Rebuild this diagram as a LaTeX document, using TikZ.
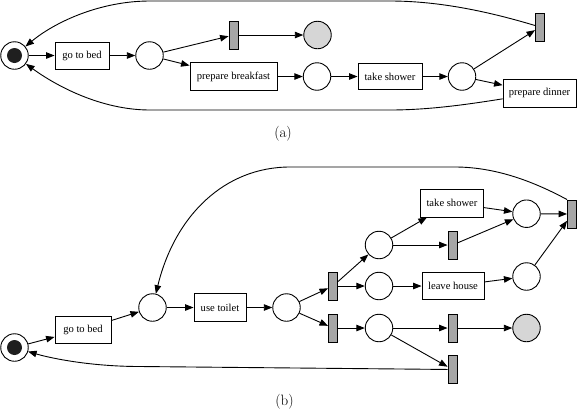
\documentclass[tikz,border=0pt]{standalone}
\usepackage{fontspec}
\newfontfamily\lab{Liberation Serif}
\usetikzlibrary{arrows.meta}
\tikzset{
 arr/.style={-{Triangle[length=8.5pt,width=6.5pt]}, line width=0.9pt},
 place/.style={circle, draw, line width=0.9pt, minimum size=27.5pt, inner sep=0pt},
 final/.style={place, fill=black!16},
 trans/.style={rectangle, draw, line width=0.9pt, fill=black!35, minimum width=9pt, minimum height=28pt, inner sep=0pt},
 task/.style={rectangle, draw, line width=0.9pt, minimum height=27pt, inner sep=0pt, font=\lab\fontsize{10.6}{12}\selectfont},
 tok/.style={circle, fill=black!88, minimum size=15pt, inner sep=0pt},
 captext/.style={font=\fontsize{15}{17}\selectfont, inner sep=0pt}
}
\begin{document}
\begin{tikzpicture}[x=1pt,y=-1pt]
\useasboundingbox (0,0) rectangle (577,413);
% (a)
\node[place] (sa) at (14.5,55.5) {};
\node[tok] (satok) at (sa) {};
\node[task, minimum width=54pt] (beda) at (82,55.5) {go to bed};
\node[place] (pa1) at (149.5,55.5) {};
\node[trans] (ta1) at (233.5,35) {};
\node[final] (fa) at (317.5,35) {};
\node[task, minimum width=87pt, minimum height=28pt] (brk) at (233.5,76.5) {prepare breakfast};
\node[place] (pa2) at (317,76.5) {};
\node[task, minimum width=64pt, minimum height=26pt] (shwa) at (390,76.5) {take shower};
\node[place] (pa3) at (462,76.5) {};
\node[trans] (ta2) at (540,27) {};
\node[task, minimum width=73pt, minimum height=28pt] (din) at (539.5,93) {prepare dinner};
\node[captext] (capa) at (283,134) {(a)};
\draw[arr] (sa) -- (beda);
\draw[arr] (beda) -- (pa1);
\draw[arr] (pa1) -- (ta1);
\draw[arr] (pa1) -- (brk);
\draw[arr] (ta1) -- (fa);
\draw[arr] (brk) -- (pa2);
\draw[arr] (pa2) -- (shwa);
\draw[arr] (shwa) -- (pa3);
\draw[arr] (pa3) -- (ta2);
\draw[arr] (pa3) -- (din);
\draw[arr] (ta2) .. controls (490,12) and (440,1) .. (390,1) -- (150,1) .. controls (100,1) and (55,22) .. (sa);
\draw[arr] (din) .. controls (470,104) and (430,110) .. (390,110) -- (150,110) .. controls (100,110) and (55,85) .. (sa);
% (b)
\node[place] (sb) at (14.5,347.5) {};
\node[tok] (sbtok) at (sb) {};
\node[task, minimum width=56pt] (bedb) at (83,329.5) {go to bed};
\node[place] (pb1) at (152.5,307.5) {};
\node[task, minimum width=52pt, minimum height=28pt] (toil) at (220,307.5) {use toilet};
\node[place] (pb2) at (286.5,307.5) {};
\node[trans] (tb1) at (333,286) {};
\node[trans] (tb2) at (333,328) {};
\node[place] (pb3) at (379,245) {};
\node[place] (pb4) at (379,286) {};
\node[place] (pb5) at (379,328) {};
\node[task, minimum width=63pt, minimum height=28pt] (shwb) at (452,203) {take shower};
\node[trans] (tb3) at (452.5,245) {};
\node[task, minimum width=62pt] (leave) at (453,286) {leave house};
\node[place] (pb6) at (526.5,213.7) {};
\node[place] (pb7) at (526.5,276.5) {};
\node[trans] (tb4) at (572,214) {};
\node[trans] (tb5) at (452.5,328) {};
\node[final] (fb) at (526.5,328) {};
\node[trans] (tb6) at (452.5,369.5) {};
\node[captext] (capb) at (284.5,402) {(b)};
\draw[arr] (sb) -- (bedb);
\draw[arr] (bedb) -- (pb1);
\draw[arr] (pb1) -- (toil);
\draw[arr] (toil) -- (pb2);
\draw[arr] (pb2) -- (tb1);
\draw[arr] (pb2) -- (tb2);
\draw[arr] (tb1) -- (pb3);
\draw[arr] (tb1) -- (pb4);
\draw[arr] (tb2) -- (pb5);
\draw[arr] (pb3) -- (shwb);
\draw[arr] (pb3) -- (tb3);
\draw[arr] (pb4) -- (leave);
\draw[arr] (pb5) -- (tb5);
\draw[arr] (pb5) -- (tb6);
\draw[arr] (shwb) -- (pb6);
\draw[arr] (tb3) -- (pb6);
\draw[arr] (leave) -- (pb7);
\draw[arr] (pb6) -- (tb4);
\draw[arr] (pb7) -- (tb4);
\draw[arr] (tb5) -- (fb);
\draw[arr] (tb4.north west) .. controls (540,185) and (500,167) .. (455,167) -- (290,167) .. controls (225,167) and (175,215) .. (pb1);
\draw[arr] (tb6) -- (140,366.5) .. controls (90,366.5) and (50,358) .. (sb);
\end{tikzpicture}
\end{document}
